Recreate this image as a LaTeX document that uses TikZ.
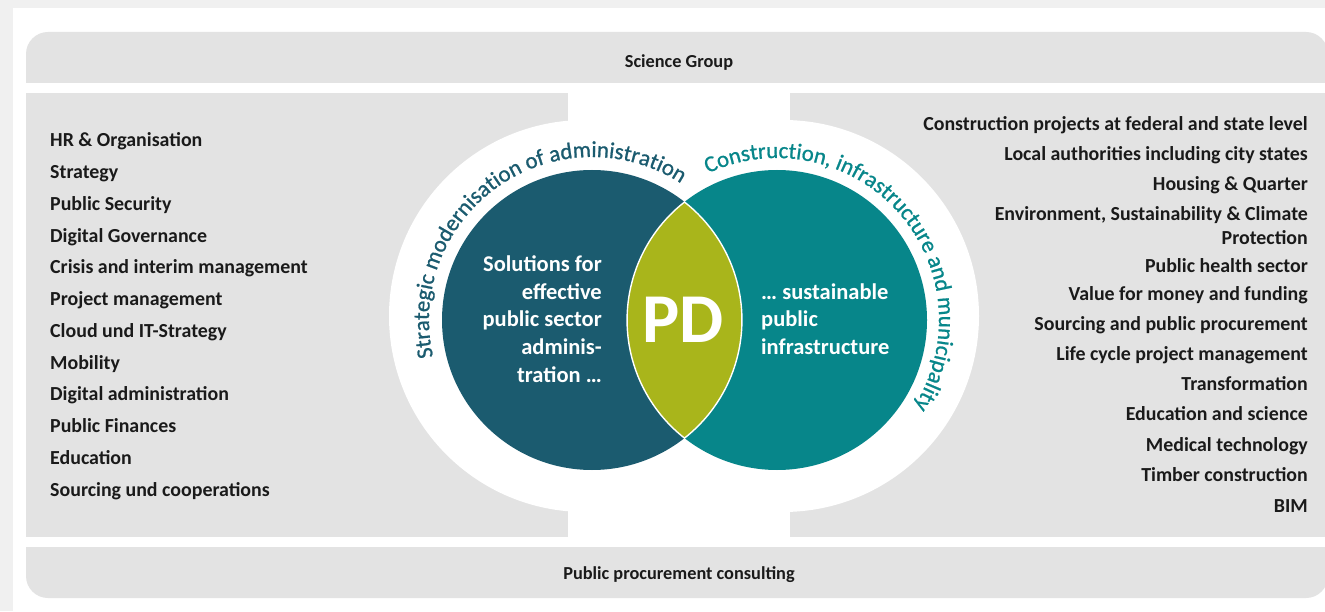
\documentclass[tikz,border=0pt]{standalone}
\usepackage{fontspec}
\setmainfont{Carlito}
\newfontfamily\ringfont[FakeBold=0.9]{Carlito}
\usetikzlibrary{decorations.text}
\definecolor{frame}{HTML}{F0F0F0}
\definecolor{panel}{HTML}{E3E3E3}
\definecolor{darkteal}{HTML}{1B5B6F}
\definecolor{tealc}{HTML}{07868A}
\definecolor{olivec}{HTML}{A9B51B}
\definecolor{ink}{HTML}{1A1A1A}
\tikzset{
  listL/.style={anchor=base west, inner sep=0pt, text=ink, font=\fontsize{19.9}{23}\selectfont\bfseries},
  listR/.style={anchor=base east, inner sep=0pt, text=ink, font=\fontsize{19.9}{23}\selectfont\bfseries},
  bandtext/.style={anchor=base, inner sep=0pt, text=ink, font=\fontsize{18.3}{21}\selectfont\bfseries},
  innerL/.style={anchor=base east, inner sep=0pt, text=white, font=\fontsize{22.5}{27}\selectfont\bfseries},
  innerR/.style={anchor=base west, inner sep=0pt, text=white, font=\fontsize{22.5}{27}\selectfont\bfseries},
  venn/.style={circle, inner sep=0pt, minimum size=300pt},
  halo/.style={circle, inner sep=0pt, minimum size=392pt, fill=white},
}
\begin{document}
\begin{tikzpicture}[x=1pt,y=1pt]
\useasboundingbox (0,0) rectangle (1325,611);
\fill[frame] (0,0) rectangle (1325,611);
\fill[white] (13,0) rectangle (1325,603);
% bands and panels
\fill[panel] (26,528) [rounded corners=22pt] -- (26,579) -- (1328,579) [sharp corners] -- (1328,528) -- cycle;
\fill[panel] (26,74) rectangle (568,518);
\fill[panel] (790,74) rectangle (1330,518);
\fill[panel] (26,64) [rounded corners=22pt] -- (26,13) -- (1328,13) [sharp corners] -- (1328,64) -- cycle;
\node[bandtext] (sg) at (679,543) {Science Group};
\node[bandtext] (ppc) at (679,32) {Public procurement consulting};
% white halos
\node[halo] (hL) at (585,295) {};
\node[halo] (hR) at (783,295) {};
% venn circles
\coordinate (cL) at (592,291);
\coordinate (cR) at (777,291);
\node[venn, fill=darkteal] (vL) at (cL) {};
\node[venn, fill=tealc] (vR) at (cR) {};
\begin{scope}
  \clip (cL) circle (150);
  \fill[olivec] (cR) circle (150);
\end{scope}
\draw[white, line width=1.4pt] (684.5,172.9) arc[start angle=-51.9, end angle=51.9, radius=150]
   arc[start angle=128.1, end angle=231.9, radius=150] -- cycle;
\node[anchor=base, inner sep=0pt, text=white, font=\fontsize{70}{80}\selectfont\bfseries] (pd) at (683,268) {PD};
% ring texts
\path[decorate, decoration={text along path, text align=center,
  text={|\ringfont\fontsize{22.8}{27}\selectfont\color{darkteal}|Strategic modernisation of administration}}]
  (cL) ++(200:163) arc[start angle=200, end angle=50, radius=163];
\path[decorate, decoration={text along path, text align=center,
  text={|\ringfont\fontsize{22.8}{27}\selectfont\color{tealc}|Construction, infrastructure and municipality}}]
  (cR) ++(120:162) arc[start angle=120, end angle=-37, radius=162];
% inner texts
\node[innerL] (l1) at (602,339) {Solutions for};
\node[innerL] (l2) at (602,311) {effective};
\node[innerL] (l3) at (602,284) {public sector};
\node[innerL] (l4) at (602,256) {adminis-};
\node[innerL] (l5) at (602,228) {tration …};
\node[innerR] (r1) at (761,311) {… sustainable};
\node[innerR] (r2) at (761,284) {public};
\node[innerR] (r3) at (761,256) {infrastructure};
% left list
\node[listL] (a1) at (50,464) {HR \& Organisation};
\node[listL] (a2) at (50,432.3) {Strategy};
\node[listL] (a3) at (50,400.5) {Public Security};
\node[listL] (a4) at (50,368.8) {Digital Governance};
\node[listL] (a5) at (50,337.1) {Crisis and interim management};
\node[listL] (a6) at (50,305.4) {Project management};
\node[listL] (a7) at (50,273.6) {Cloud und IT-Strategy};
\node[listL] (a8) at (50,241.9) {Mobility};
\node[listL] (a9) at (50,210.2) {Digital administration};
\node[listL] (a10) at (50,178.4) {Public Finances};
\node[listL] (a11) at (50,146.7) {Education};
\node[listL] (a12) at (50,115) {Sourcing und cooperations};
% right list
\node[listR] (b1) at (1308,480) {Construction projects at federal and state level};
\node[listR] (b2) at (1308,450) {Local authorities including city states};
\node[listR] (b3) at (1308,420) {Housing \& Quarter};
\node[listR] (b4) at (1308,390) {Environment, Sustainability \& Climate};
\node[listR] (b4b) at (1308,366) {Protection};
\node[listR] (b5) at (1308,338) {Public health sector};
\node[listR] (b6) at (1308,310) {Value for money and funding};
\node[listR] (b7) at (1308,280) {Sourcing and public procurement};
\node[listR] (b8) at (1308,250) {Life cycle project management};
\node[listR] (b9) at (1308,220) {Transformation};
\node[listR] (b10) at (1308,190) {Education and science};
\node[listR] (b11) at (1308,160) {Medical technology};
\node[listR] (b12) at (1308,130) {Timber construction};
\node[listR] (b13) at (1308,99) {BIM};
\end{tikzpicture}
\end{document}
